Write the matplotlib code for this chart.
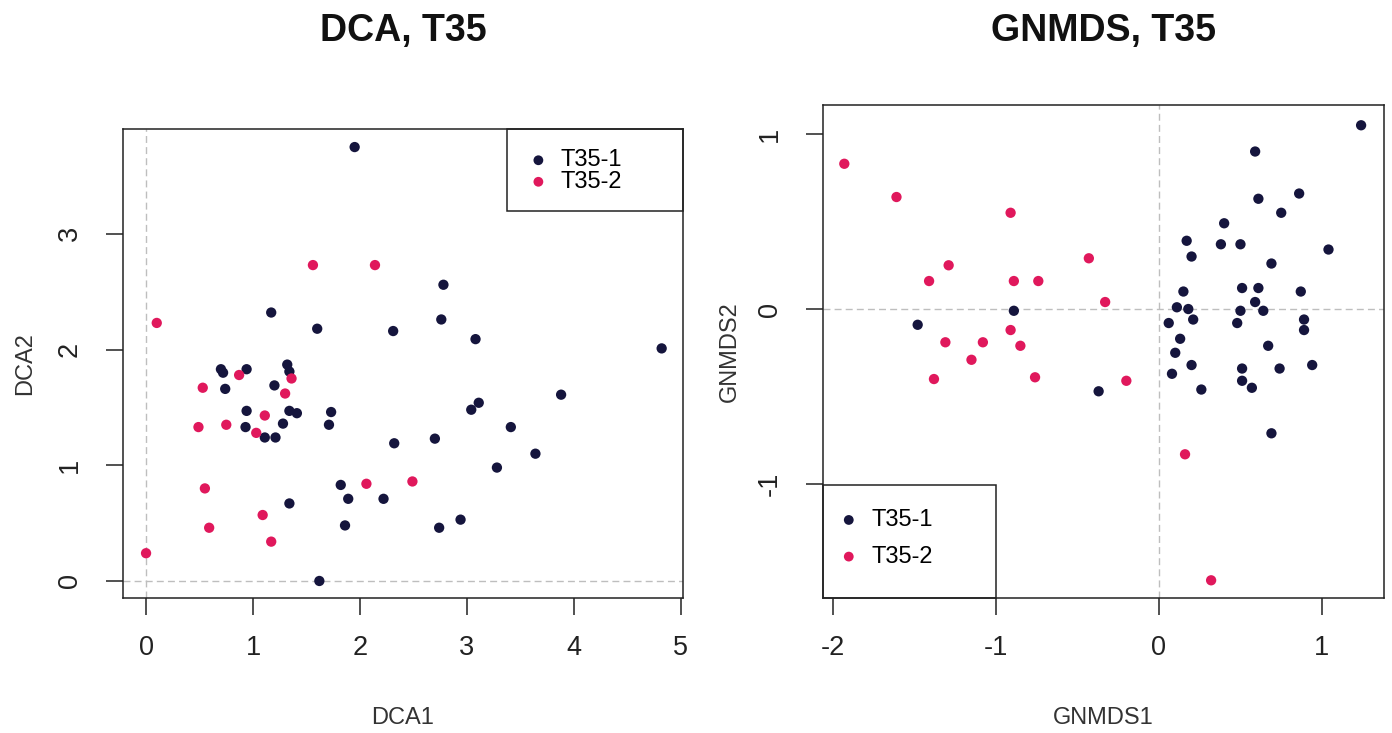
import matplotlib
matplotlib.use("Agg")
import matplotlib.pyplot as plt
from matplotlib.patches import Rectangle

plt.rcParams['font.family'] = ['Liberation Sans', 'DejaVu Sans']
plt.rcParams['axes.unicode_minus'] = False

groups = ["T35-1", "T35-2"]

# DCA scores
dca1_g1 = [1.95, 1.17, 1.60, 2.31, 0.70, 0.72, 0.94, 1.32, 1.34, 0.74, 1.20, 0.94, 1.34, 1.41,
           1.73, 1.71, 1.28, 0.93, 1.11, 1.21, 2.32, 1.82, 1.89, 2.22, 1.34, 1.86, 1.62,
           2.78, 2.76, 3.08, 4.82, 2.70, 3.04, 3.11, 3.88, 3.41, 3.64, 3.28, 2.94, 2.74]
dca2_g1 = [3.75, 2.32, 2.18, 2.16, 1.83, 1.80, 1.83, 1.87, 1.81, 1.66, 1.69, 1.47, 1.47, 1.45,
           1.46, 1.35, 1.36, 1.33, 1.24, 1.24, 1.19, 0.83, 0.71, 0.71, 0.67, 0.48, 0.00,
           2.56, 2.26, 2.09, 2.01, 1.23, 1.48, 1.54, 1.61, 1.33, 1.10, 0.98, 0.53, 0.46]
dca1_g2 = [0.10, 1.56, 2.14, 0.87, 1.36, 0.53, 1.30, 1.11, 0.49, 0.75, 1.03, 0.55, 2.06,
           1.09, 0.59, 1.17, 0.00, 2.49]
dca2_g2 = [2.23, 2.73, 2.73, 1.78, 1.75, 1.67, 1.62, 1.43, 1.33, 1.35, 1.28, 0.80, 0.84,
           0.57, 0.46, 0.34, 0.24, 0.86]

# GNMDS scores
nmds1_g1 = [-0.89, -1.48, -0.37, 1.24, 0.59, 0.86, 0.61, 0.75, 0.40, 0.17, 0.38, 0.50, 1.04,
            0.20, 0.69, 0.15, 0.51, 0.61, 0.87, 0.59, 0.11, 0.18, 0.50, 0.64, 0.06, 0.21,
            0.48, 0.89, 0.89, 0.13, 0.67, 0.10, 0.20, 0.51, 0.74, 0.94, 0.08, 0.51, 0.57,
            0.26, 0.69]
nmds2_g1 = [-0.01, -0.09, -0.47, 1.05, 0.90, 0.66, 0.63, 0.55, 0.49, 0.39, 0.37, 0.37, 0.34,
            0.30, 0.26, 0.10, 0.12, 0.12, 0.10, 0.04, 0.01, 0.00, -0.01, -0.01, -0.08, -0.06,
            -0.08, -0.06, -0.12, -0.17, -0.21, -0.25, -0.32, -0.34, -0.34, -0.32, -0.37,
            -0.41, -0.45, -0.46, -0.71]
nmds1_g2 = [-1.93, -1.61, -0.91, -1.29, -1.41, -0.89, -0.74, -0.43, -0.33, -0.91, -1.31,
            -1.08, -0.85, -1.15, -1.38, -0.76, -0.20, 0.16, 0.32]
nmds2_g2 = [0.83, 0.64, 0.55, 0.25, 0.16, 0.16, 0.16, 0.29, 0.04, -0.12, -0.19, -0.19,
            -0.21, -0.29, -0.40, -0.39, -0.41, -0.83, -1.55]

navy = '#15153d'
pink = '#e0185c'
grid_col = '#bebebe'

fig = plt.figure(figsize=(13.92, 7.33), dpi=100)
ax1 = fig.add_axes([0.0884, 0.1842, 0.4023, 0.6398])
ax2 = fig.add_axes([0.5912, 0.1842, 0.4030, 0.6726])


def style(ax, xticks, yticks, xlim, ylim):
    ax.axhline(0, color=grid_col, ls=(0, (5, 3)), lw=1.0, zorder=0)
    ax.axvline(0, color=grid_col, ls=(0, (5, 3)), lw=1.0, zorder=0)
    ax.set_xlim(xlim)
    ax.set_ylim(ylim)
    ax.set_xticks(xticks)
    ax.set_yticks(yticks)
    ax.tick_params(direction='out', length=12, width=1.1, labelsize=19.5, colors='#222222')
    ax.tick_params(axis='x', pad=15)
    ax.tick_params(axis='y', pad=17, labelrotation=90)
    for t in ax.get_yticklabels():
        t.set_va('center')
    for s in ax.spines.values():
        s.set_linewidth(1.1)
        s.set_color('#222222')


ax1.scatter(dca1_g1, dca2_g1, s=55, c=navy, edgecolors='none', zorder=3)
ax1.scatter(dca1_g2, dca2_g2, s=55, c=pink, edgecolors='none', zorder=3)
style(ax1, [0, 1, 2, 3, 4, 5], [0, 1, 2, 3], (-0.215, 5.02), (-0.147, 3.906))

ax2.scatter(nmds1_g1, nmds2_g1, s=55, c=navy, edgecolors='none', zorder=3)
ax2.scatter(nmds1_g2, nmds2_g2, s=55, c=pink, edgecolors='none', zorder=3)
style(ax2, [-2, -1, 0, 1], [-1, 0, 1], (-2.061, 1.380), (-1.651, 1.166))

ax1.set_xlabel("DCA1", fontsize=17, color='#333333')
ax1.set_ylabel("DCA2", fontsize=17, color='#333333')
ax2.set_xlabel("GNMDS1", fontsize=17, color='#333333')
ax2.set_ylabel("GNMDS2", fontsize=17, color='#333333')
for ax in (ax1, ax2):
    ax.xaxis.label.set_va('center')
    ax.yaxis.label.set_va('center')
ax1.xaxis.set_label_coords(0.5, -0.256)
ax1.yaxis.set_label_coords(-0.175, 0.5)
ax2.xaxis.set_label_coords(0.5, -0.243)
ax2.yaxis.set_label_coords(-0.166, 0.5)

fig.text(403 / 1392, 1 - 31 / 733, "DCA, T35", fontsize=27, fontweight='bold',
         ha='center', va='center', color='#111111')
fig.text(1103.5 / 1392, 1 - 31 / 733, "GNMDS, T35", fontsize=27, fontweight='bold',
         ha='center', va='center', color='#111111')

# legends
ax1.add_patch(Rectangle((0.686, 0.825), 0.314, 0.175, transform=ax1.transAxes,
                        fill=False, lw=1.1, ec='#222222', clip_on=False, zorder=5))
h1 = ax1.collections
ax1.legend(h1[:2], groups, loc='center left', bbox_to_anchor=(0.729, 0.910),
           frameon=False, fontsize=17, handlelength=0.6, handletextpad=0.65,
           labelspacing=-0.02, borderpad=0, borderaxespad=0, markerscale=0.95,
           scatterpoints=1)

ax2.add_patch(Rectangle((0.0, 0.0), 0.308, 0.229, transform=ax2.transAxes,
                        fill=False, lw=1.1, ec='#222222', clip_on=False, zorder=5))
h2 = ax2.collections
ax2.legend(h2[:2], groups, loc='center left', bbox_to_anchor=(0.0334, 0.1207),
           frameon=False, fontsize=17, handlelength=0.6, handletextpad=0.65,
           labelspacing=0.62, borderpad=0, borderaxespad=0, markerscale=0.95,
           scatterpoints=1)

fig.savefig("out.png", dpi=100)
